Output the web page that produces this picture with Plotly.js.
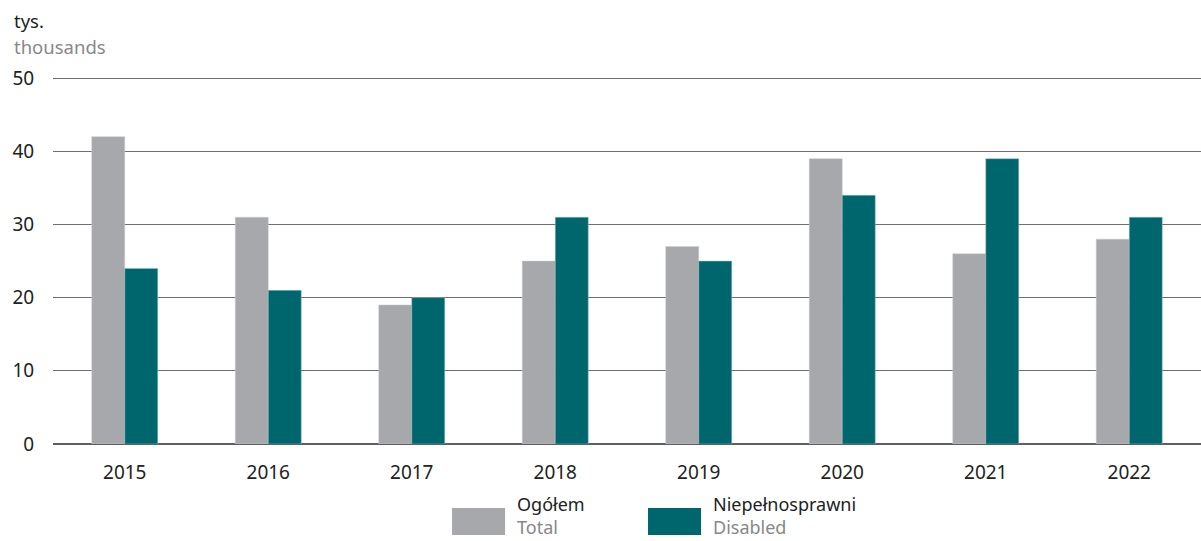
<!DOCTYPE html>
<html>
<head>
<meta charset="utf-8">
<script src="https://cdn.plot.ly/plotly-3.0.1.min.js"></script>
<style>
  body { margin: 0; background: #fff; }
  #chart { width: 1201px; height: 541px; }
</style>
</head>
<body>
<div id="chart"></div>
<script>
const years = ['2015', '2016', '2017', '2018', '2019', '2020', '2021', '2022'];
const totalValues = [42, 31, 19, 25, 27, 39, 26, 28];
const disabledValues = [24, 21, 20, 31, 25, 34, 39, 31];
const seriesNames = ['Ogółem', 'Niepełnosprawni'];
const seriesNamesEn = ['Total', 'Disabled'];
const colors = ['#a7a8ab', '#00666e'];

const font = 'Noto Sans, Open Sans, sans-serif';

const traces = [
  {
    x: years, y: totalValues, type: 'bar', name: seriesNames[0],
    marker: {color: colors[0], line: {color: '#c9ccce', width: 0.5}}
  },
  {
    x: years, y: disabledValues, type: 'bar', name: seriesNames[1],
    marker: {color: colors[1], line: {color: '#9fc0c4', width: 0.5}}
  }
];

// legend built by hand: big swatches with two-line labels (Polish / English)
const legendX = [0.3476, 0.5183];
const shapes = [];
const annotations = [
  {xref: 'paper', yref: 'paper', x: -0.0357, y: 1.1495, xanchor: 'left', yanchor: 'middle',
   text: 'tys.', showarrow: false, font: {family: font, size: 18.5, color: '#222'}},
  {xref: 'paper', yref: 'paper', x: -0.0357, y: 1.0815, xanchor: 'left', yanchor: 'middle',
   text: 'thousands', showarrow: false, font: {family: font, size: 18.5, color: '#888'}}
];
seriesNames.forEach((name, i) => {
  shapes.push({
    type: 'rect', xref: 'paper', yref: 'paper',
    x0: legendX[i], x1: legendX[i] + 0.0462, y0: -0.2473, y1: -0.1739,
    fillcolor: colors[i], line: {width: 0}
  });
  annotations.push({
    xref: 'paper', yref: 'paper', x: legendX[i] + 0.0557, y: -0.2609,
    xanchor: 'left', yanchor: 'bottom', align: 'left', borderpad: 0,
    text: name + '<br><span style="color:#888">' + seriesNamesEn[i] + '</span>',
    showarrow: false, font: {family: font, size: 18, color: '#222'}
  });
});

const layout = {
  width: 1201, height: 541,
  margin: {l: 53, r: 0, t: 76, b: 97},
  paper_bgcolor: '#fff', plot_bgcolor: '#fff',
  showlegend: false,
  barmode: 'group',
  bargap: 0.54,
  bargroupgap: 0,
  font: {family: font, size: 19, color: '#222'},
  xaxis: {
    type: 'category', showgrid: false, showline: false, zeroline: false,
    ticks: 'outside', ticklen: 11, tickcolor: 'rgba(0,0,0,0)',
    tickfont: {family: font, size: 19, color: '#222'}
  },
  yaxis: {
    range: [0, 50.3], tickvals: [0, 10, 20, 30, 40, 50],
    showgrid: true, gridcolor: '#6f6f6f', gridwidth: 1.2,
    zeroline: true, zerolinecolor: '#5f5f5f', zerolinewidth: 1.5,
    showline: false, ticks: 'outside', ticklen: 14, tickcolor: 'rgba(0,0,0,0)',
    tickfont: {family: font, size: 19, color: '#222'}
  },
  shapes: shapes,
  annotations: annotations
};

Plotly.newPlot('chart', traces, layout, {displayModeBar: false});
</script>
</body>
</html>
